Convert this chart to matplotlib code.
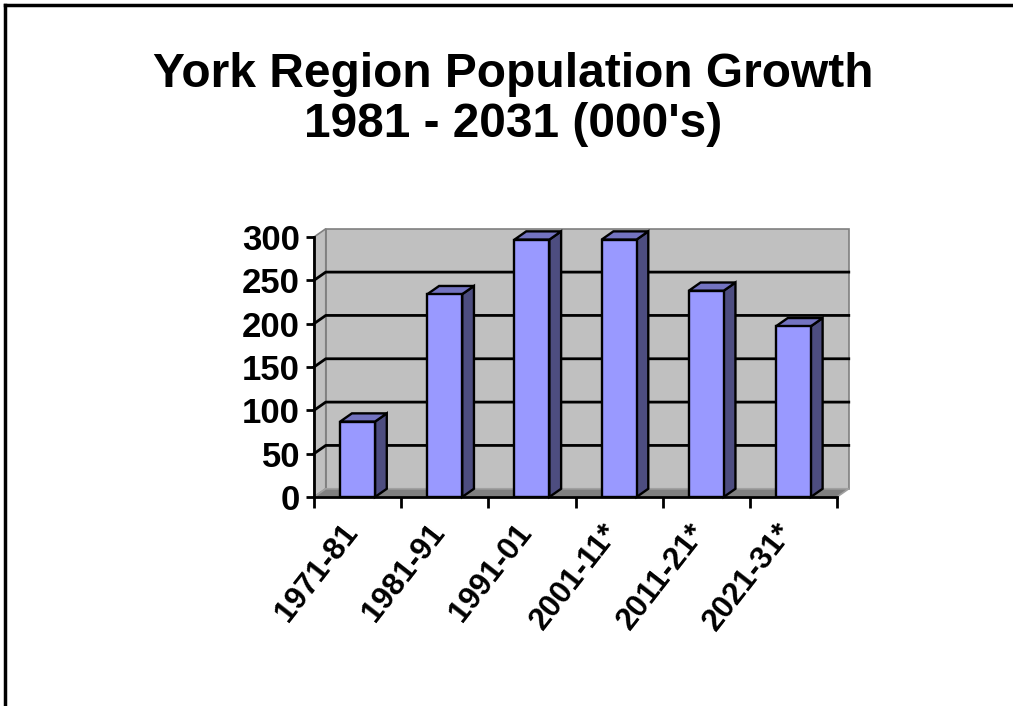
import matplotlib
matplotlib.use("Agg")
import matplotlib.pyplot as plt
from matplotlib.patches import Polygon
from matplotlib.lines import Line2D

# -----------------------------
# DATA
# -----------------------------
periods = ["1971-81", "1981-91", "1991-01", "2001-11*", "2011-21*", "2021-31*"]
growth = [87, 234, 297, 297, 238, 197]   # population growth (000's)
y_ticks = [0, 50, 100, 150, 200, 250, 300]
title_lines = ["York Region Population Growth", "1981 - 2031 (000's)"]

# -----------------------------
# STYLE
# -----------------------------
FONT = "Liberation Sans"
FRONT = "#9999FF"
TOP = "#7373C0"
SIDE = "#4D4D80"
WALL = "#C0C0C0"
FLOOR = "#808080"
DX = 0.135    # 3D depth offset, category units
DY = 9.5      # 3D depth offset, value units
BAR_W = 0.4

W, H = 1013, 706
fig = plt.figure(figsize=(W / 100, H / 100), dpi=100)
ax = fig.add_axes([314 / W, 209 / H, 523 / W, 260 / H])
ax.patch.set_visible(False)
n = len(periods)
x0, x1 = -0.5, n - 0.5
ymax = y_ticks[-1]
ax.set_xlim(x0, x1)
ax.set_ylim(0, ymax)

# back wall + side wall + floor
ax.add_patch(Polygon([(x0 + DX, DY), (x1 + DX, DY), (x1 + DX, ymax + DY), (x0 + DX, ymax + DY)],
                     closed=True, facecolor=WALL, edgecolor="#808080", lw=1.2, zorder=0, clip_on=False))
ax.add_patch(Polygon([(x0, 0), (x0 + DX, DY), (x0 + DX, ymax + DY), (x0, ymax)],
                     closed=True, facecolor=WALL, edgecolor="#808080", lw=1.2, zorder=0, clip_on=False))
ax.add_patch(Polygon([(x0, 0), (x1, 0), (x1 + DX, DY), (x0 + DX, DY)],
                     closed=True, facecolor=FLOOR, edgecolor="#A0A0A0", lw=1.2, zorder=1, clip_on=False))

# gridlines on side and back wall
for v in y_ticks[1:-1]:
    ax.plot([x0, x0 + DX, x1 + DX], [v, v + DY, v + DY], color="black", lw=2, zorder=2, clip_on=False)

# bars: front face, side and top
ax.bar(range(n), growth, width=BAR_W, color=FRONT, edgecolor="black", linewidth=1.7, zorder=4)
for i, v in enumerate(growth):
    l, r = i - BAR_W / 2, i + BAR_W / 2
    ax.add_patch(Polygon([(r, 0), (r + DX, DY), (r + DX, v + DY), (r, v)], closed=True,
                         facecolor=SIDE, edgecolor="black", lw=1.7, zorder=3, clip_on=False))
    ax.add_patch(Polygon([(l, v), (l + DX, v + DY), (r + DX, v + DY), (r, v)], closed=True,
                         facecolor=TOP, edgecolor="black", lw=1.7, zorder=3, clip_on=False))

# axes, ticks and labels
for s in ["top", "right"]:
    ax.spines[s].set_visible(False)
for s in ["left", "bottom"]:
    ax.spines[s].set_linewidth(2)
    ax.spines[s].set_zorder(5)
ax.set_yticks(y_ticks)
ax.set_yticklabels([str(t) for t in y_ticks], fontsize=25, fontweight="bold", family=FONT)
ax.tick_params(axis="y", length=6, width=2, pad=4)
ax.set_xticks([i - 0.5 for i in range(n + 1)])
ax.set_xticklabels([])
ax.tick_params(axis="x", which="major", length=8, width=2)

for i, lab in enumerate(periods):
    ax.annotate(lab, xy=(i, 0), xycoords="data", xytext=(-4, -22), textcoords="offset points",
                rotation=52, rotation_mode="anchor", ha="right", va="center",
                fontsize=22.5, fontweight="bold", family=FONT, annotation_clip=False)

# title
fig.text(513 / W, 1 - 87 / H, title_lines[0], ha="center", va="baseline", fontsize=34.5,
         fontweight="bold", family=FONT)
fig.text(513 / W, 1 - 137 / H, title_lines[1], ha="center", va="baseline", fontsize=34.5,
         fontweight="bold", family=FONT)

# page frame (top and left edges visible)
fx, fy = 5 / W, 1 - 5 / H
fig.lines.append(Line2D([fx, 1.05], [fy, fy], transform=fig.transFigure, color="black", lw=2.5))
fig.lines.append(Line2D([fx, fx], [-0.05, fy], transform=fig.transFigure, color="black", lw=2.5))

fig.savefig("out.png", dpi=100)
